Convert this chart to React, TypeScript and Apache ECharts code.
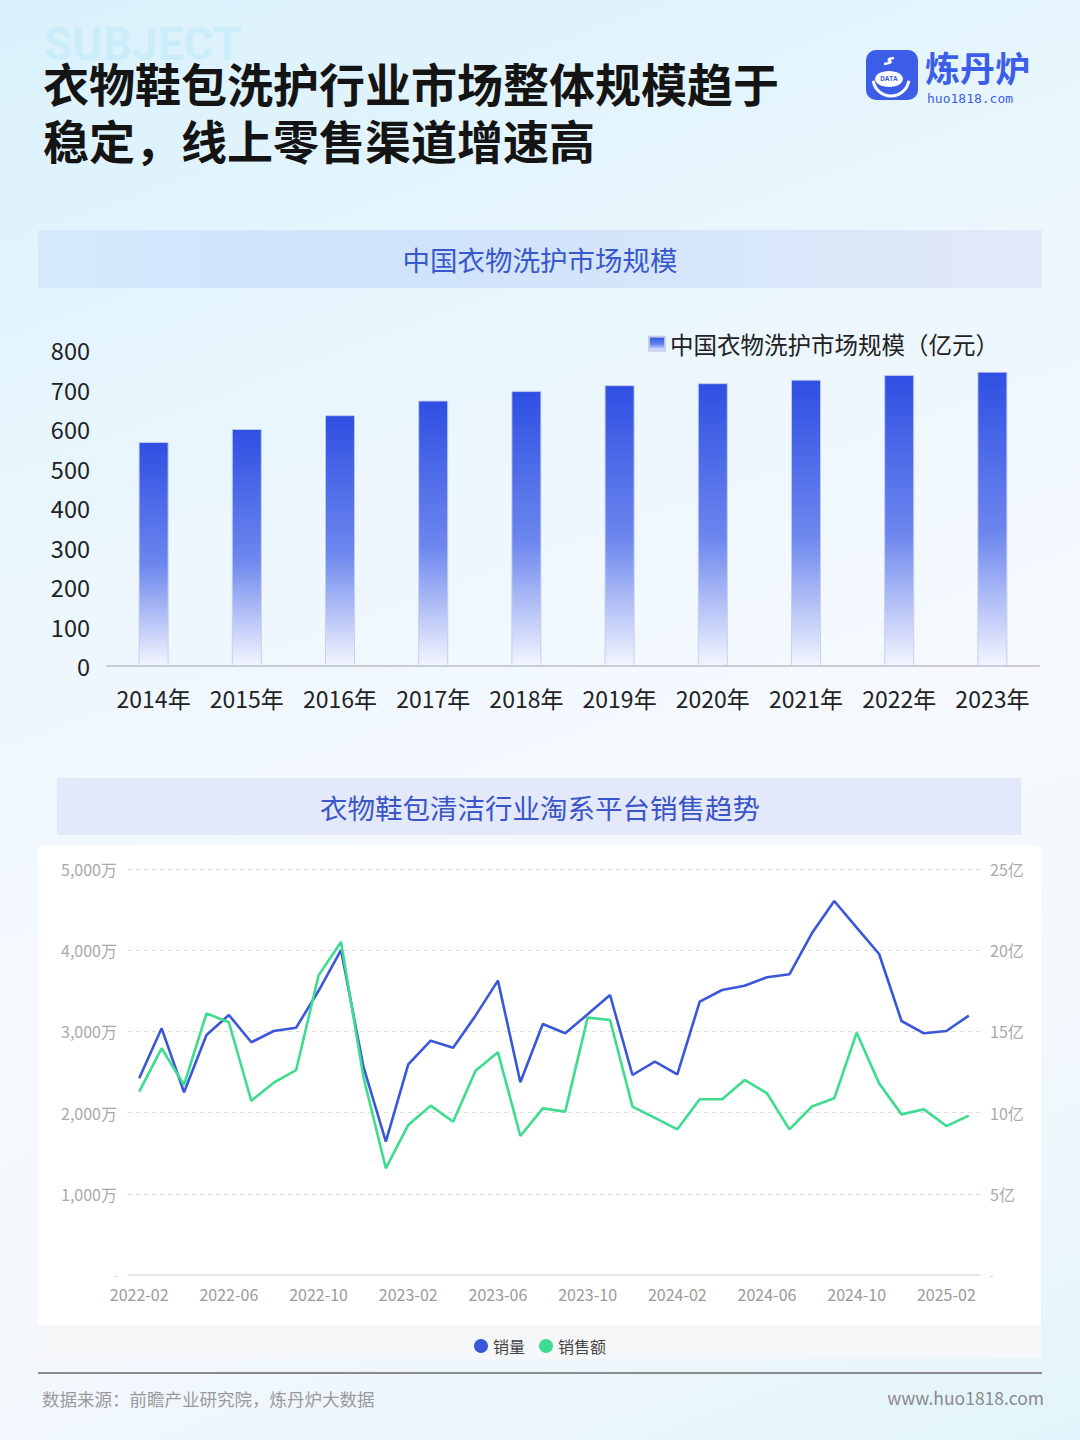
import React, { useEffect, useRef } from "react";
import * as echarts from "echarts";

const barYears = ["2014年", "2015年", "2016年", "2017年", "2018年", "2019年", "2020年", "2021年", "2022年", "2023年"];
const marketSize = [567, 600, 635, 672, 696, 711, 716, 725, 737, 745];
const barTicks = [0, 100, 200, 300, 400, 500, 600, 700, 800];

const months = [
  "2022-02", "2022-03", "2022-04", "2022-05", "2022-06", "2022-07", "2022-08", "2022-09", "2022-10", "2022-11", "2022-12",
  "2023-01", "2023-02", "2023-03", "2023-04", "2023-05", "2023-06", "2023-07", "2023-08", "2023-09", "2023-10", "2023-11", "2023-12",
  "2024-01", "2024-02", "2024-03", "2024-04", "2024-05", "2024-06", "2024-07", "2024-08", "2024-09", "2024-10", "2024-11", "2024-12",
  "2025-01", "2025-02", "2025-03",
];
// 销量 (万)
const salesVolume = [
  2422, 3038, 2250, 2956, 3202, 2866, 3005, 3046, 3500, 4002, 2566,
  1642, 2595, 2886, 2800, 3194, 3625, 2373, 3091, 2977, 3210, 3448, 2463,
  2627, 2472, 3366, 3510, 3563, 3666, 3703, 4208, 4606, 4277, 3953, 3128,
  2977, 3005, 3194,
];
// 销售额 (亿)
const salesAmount = [
  11.29, 13.96, 11.7, 16.11, 15.56, 10.73, 11.84, 12.62, 18.45, 20.5, 12.2,
  6.57, 9.24, 10.43, 9.44, 12.58, 13.71, 8.56, 10.26, 10.06, 15.85, 15.7, 10.37,
  9.67, 8.97, 10.82, 10.82, 12.01, 11.19, 8.97, 10.37, 10.88, 14.92, 11.8, 9.89,
  10.2, 9.17, 9.81,
];

const FONT = '"Noto Sans CJK SC", "Noto Sans", sans-serif';
const BLUE = "#3b57d9";
const GREEN = "#3ddc8e";

export default function App() {
  const ref = useRef<HTMLDivElement>(null);

  useEffect(() => {
    if (!ref.current) return;
    const chart = echarts.init(ref.current, undefined, { renderer: "svg" });

    const barGradient = new echarts.graphic.LinearGradient(0, 0, 0, 1, [
      { offset: 0, color: "#2e4fe2" },
      { offset: 0.55, color: "#6d87ee" },
      { offset: 1, color: "#f3f5fe" },
    ]);

    const dashRich = { d: { fontSize: 9, lineHeight: 9, color: "#b5b5b5" } };

    const option: any = {
      animation: false,
      backgroundColor: "transparent",
      textStyle: { fontFamily: FONT },
      graphic: [
        // watermark
        {
          type: "text", x: 44, y: 44, z: -2,
          style: {
            text: "SUBJECT", fontSize: 46, lineHeight: 18, fontWeight: "bold", fontFamily: "Roboto, sans-serif",
            fill: "#cbedf9", verticalAlign: "middle",
          },
        },
        {
          type: "text", x: 43, y: 82, z: 5,
          style: { text: "衣物鞋包洗护行业市场整体规模趋于", fontSize: 46, lineHeight: 46, fontWeight: "bold", fontFamily: FONT, fill: "#141414", verticalAlign: "middle" },
        },
        {
          type: "text", x: 43, y: 139, z: 5,
          style: { text: "稳定，线上零售渠道增速高", fontSize: 46, lineHeight: 46, fontWeight: "bold", fontFamily: FONT, fill: "#141414", verticalAlign: "middle" },
        },
        // logo
        { type: "rect", shape: { x: 866, y: 50, width: 52, height: 50, r: 10 }, style: { fill: "#3b5de7" }, z: 1 },
        {
          type: "bezierCurve", z: 2,
          shape: { x1: 894, y1: 58, x2: 884, y2: 64, cpx1: 880, cpy1: 60, cpx2: 900, cpy2: 62 },
          style: { stroke: "#fff", lineWidth: 2.5, fill: null },
        },
        { type: "ellipse", shape: { cx: 889, cy: 79, rx: 14, ry: 8 }, style: { fill: "#fff" }, z: 2 },
        {
          type: "text", x: 889, y: 79, z: 3,
          style: { text: "DATA", fontSize: 7, fontWeight: "bold", fill: "#3b5de7", align: "center", verticalAlign: "middle", fontFamily: "Roboto, sans-serif" },
        },
        {
          type: "arc", z: 2,
          shape: { cx: 891, cy: 78, r: 18, startAngle: 0.15, endAngle: Math.PI - 0.15 },
          style: { stroke: "#fff", lineWidth: 3, fill: null },
        },
        {
          type: "text", x: 925, y: 66, z: 2,
          style: { text: "炼丹炉", fontSize: 35, lineHeight: 35, fontWeight: "bold", fill: "#3b5de7", verticalAlign: "middle", fontFamily: FONT },
        },
        {
          type: "text", x: 927, y: 98, z: 2,
          style: { text: "huo1818.com", fontSize: 13, lineHeight: 13, fill: "#3b5de7", verticalAlign: "middle", fontFamily: '"DejaVu Sans Mono", monospace' },
        },
        // banner 1
        {
          type: "rect", z: -1,
          shape: { x: 38, y: 230, width: 1004, height: 58 },
          style: {
            fill: new echarts.graphic.LinearGradient(0, 0, 1, 0, [
              { offset: 0, color: "#d4e9fb" },
              { offset: 0.4, color: "#cfe3fa" },
              { offset: 1, color: "#e1e9f9" },
            ]),
          },
        },
        {
          type: "text", x: 540, y: 259, z: 2,
          style: { text: "中国衣物洗护市场规模", fontSize: 27.5, fill: "#3a58cc", align: "center", verticalAlign: "middle", fontFamily: FONT },
        },
        // banner 2
        {
          type: "rect", z: -1,
          shape: { x: 57, y: 778, width: 964, height: 57 },
          style: { fill: "#e3e8fa" },
        },
        {
          type: "text", x: 540, y: 807, z: 2,
          style: { text: "衣物鞋包清洁行业淘系平台销售趋势", fontSize: 27.5, fill: "#3a55c8", align: "center", verticalAlign: "middle", fontFamily: FONT },
        },
        // line panel
        {
          type: "rect", z: -1,
          shape: { x: 38, y: 845, width: 1003, height: 480, r: [6, 6, 0, 0] },
          style: { fill: "#ffffff" },
        },
        {
          type: "rect", z: -1,
          shape: { x: 38, y: 1325, width: 1003, height: 34 },
          style: { fill: "#f6f7f9" },
        },
        {
          type: "rect", z: 1,
          shape: { x: 38, y: 1372, width: 1004, height: 2 },
          style: { fill: "#8a8a8a" },
        },
        // footer
        {
          type: "text", x: 42, y: 1398, z: 2,
          style: { text: "数据来源：前瞻产业研究院，炼丹炉大数据", fontSize: 17.5, fill: "#9a9a9a", verticalAlign: "middle", fontFamily: FONT },
        },
        {
          type: "text", x: 1044, y: 1397, z: 2,
          style: { text: "www.huo1818.com", fontSize: 17.5, fill: "#8a8a8a", align: "right", verticalAlign: "middle", fontFamily: FONT },
        },
      ],
      legend: [
        {
          left: 643, top: 327,
          data: ["中国衣物洗护市场规模（亿元）"],
          icon: "rect", itemWidth: 16, itemHeight: 14, itemGap: 10,
          textStyle: { fontSize: 23.5, color: "#222", fontFamily: FONT },
        },
        {
          left: "center", top: 1333,
          data: ["销量", "销售额"],
          icon: "circle", itemWidth: 14, itemHeight: 14, itemGap: 14,
          textStyle: { fontSize: 16, color: "#444", fontFamily: FONT },
        },
      ],
      grid: [
        { left: 107, top: 350, width: 932, height: 316 },
        { left: 128, top: 869, width: 852, height: 406 },
      ],
      xAxis: [
        {
          type: "category", gridIndex: 0, data: barYears,
          axisLine: { lineStyle: { color: "#c9cbd0", width: 2 } },
          axisTick: { show: false },
          axisLabel: { fontSize: 23, color: "#222", margin: 20, fontFamily: FONT, interval: 0 },
        },
        {
          type: "category", gridIndex: 1, data: months,
          axisLine: { lineStyle: { color: "#e2e4ec", width: 1.5 } },
          axisTick: { show: false },
          axisLabel: { fontSize: 16, lineHeight: 16, color: "#9a9a9a", margin: 11, interval: 3, fontFamily: FONT },
        },
      ],
      yAxis: [
        {
          type: "value", gridIndex: 0, min: barTicks[0], max: barTicks[barTicks.length - 1], interval: 100,
          axisLine: { show: false }, axisTick: { show: false }, splitLine: { show: false },
          axisLabel: { fontSize: 23.5, color: "#222", margin: 17, fontFamily: FONT },
        },
        {
          type: "value", gridIndex: 1, min: 0, max: 5000, interval: 1000,
          axisLine: { show: false }, axisTick: { show: false },
          splitLine: { show: true, lineStyle: { color: "#dcdde2", type: [4, 4] } },
          axisLabel: {
            fontSize: 16, lineHeight: 14, color: "#a9a9a9", margin: 11, fontFamily: FONT, rich: dashRich,
            formatter: (v: number) => (v === 0 ? "{d|-}" : v.toLocaleString("en-US") + "万"),
          },
        },
        {
          type: "value", gridIndex: 1, position: "right", min: 0, max: 25, interval: 5,
          axisLine: { show: false }, axisTick: { show: false }, splitLine: { show: false },
          axisLabel: {
            fontSize: 16, lineHeight: 14, color: "#a9a9a9", margin: 10, fontFamily: FONT, rich: dashRich,
            formatter: (v: number) => (v === 0 ? "{d|-}" : v + "亿"),
          },
        },
      ],
      series: [
        {
          name: "中国衣物洗护市场规模（亿元）",
          type: "bar", xAxisIndex: 0, yAxisIndex: 0,
          data: marketSize, barWidth: 30,
          itemStyle: { color: barGradient, borderColor: "rgba(196,204,232,0.9)", borderWidth: 1 },
        },
        {
          name: "销量", type: "line", xAxisIndex: 1, yAxisIndex: 1,
          data: salesVolume, symbol: "none", color: BLUE,
          lineStyle: { width: 2.6, color: BLUE },
        },
        {
          name: "销售额", type: "line", xAxisIndex: 1, yAxisIndex: 2,
          data: salesAmount, symbol: "none", color: GREEN,
          lineStyle: { width: 2.6, color: GREEN },
        },
      ],
    };

    chart.setOption(option);
    return () => chart.dispose();
  }, []);

  return (
    <div
      style={{
        position: "fixed", left: 0, top: 0, width: 1080, height: 1440,
        background:
          "linear-gradient(160deg, #d9f1fb 0%, #eaf6fd 30%, #f5f9fe 55%, #f4f8fd 75%, #e2f4fb 100%)",
      }}
    >
      <div ref={ref} style={{ width: 1080, height: 1440 }} />
    </div>
  );
}
